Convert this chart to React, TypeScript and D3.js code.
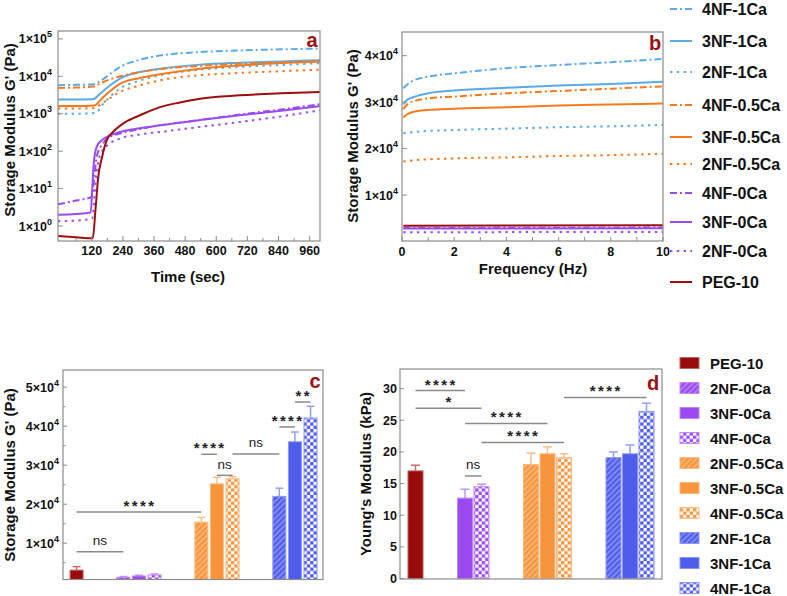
import React from 'react';
import * as d3 from 'd3';

const W = 787, H = 596;
const FONT = '"Liberation Sans", Arial, Helvetica, sans-serif';

// ---------- Panel a: time sweep (t [sec], G' [Pa]) ----------
const timeTicks = [120, 240, 360, 480, 600, 720, 840, 960];
const timeMinorTicks = [60, 180, 300, 420, 540, 660, 780, 900];
const logTicks = [0, 1, 2, 3, 4, 5];

const a_4NF_1Ca: [number, number][] = [[-10, 5800], [60, 5900], [125, 6100], [160, 8000], [190, 11500], [229, 17800], [300, 27000], [383, 36000], [460, 41000], [537, 44500], [691, 49000], [850, 52500], [1000, 55000]];
const a_3NF_1Ca: [number, number][] = [[-10, 2400], [60, 2400], [125, 2450], [150, 3300], [190, 5700], [229, 8700], [306, 13000], [383, 16000], [537, 20500], [691, 23000], [850, 25000], [1000, 27000]];
const a_2NF_1Ca: [number, number][] = [[-10, 1000], [60, 1000], [135, 1050], [160, 1700], [190, 2800], [229, 4700], [306, 7700], [383, 10700], [537, 15000], [691, 17800], [850, 20000], [1000, 22500]];
const a_4NF_05Ca: [number, number][] = [[-10, 4900], [60, 5000], [125, 5300], [160, 6800], [190, 8300], [229, 10000], [306, 13000], [383, 15500], [537, 19000], [691, 21500], [850, 23500], [1000, 25000]];
const a_3NF_05Ca: [number, number][] = [[-10, 1600], [60, 1600], [130, 1650], [160, 2600], [190, 4000], [229, 6300], [306, 9000], [383, 11300], [537, 16000], [691, 19500], [850, 22500], [1000, 25000]];
const a_2NF_05Ca: [number, number][] = [[-10, 1380], [60, 1380], [130, 1420], [160, 1900], [190, 2600], [229, 3800], [306, 5700], [383, 7800], [537, 10700], [691, 12300], [850, 13700], [1000, 15000]];
const a_4NF_0Ca: [number, number][] = [[-10, 3.8], [60, 4.8], [120, 6], [130, 20], [139, 70], [160, 150], [190, 240], [229, 295], [306, 390], [383, 490], [537, 680], [691, 950], [850, 1300], [1000, 1800]];
const a_3NF_0Ca: [number, number][] = [[-10, 2.0], [60, 2.1], [116, 2.3], [122, 10], [128, 48], [139, 130], [160, 200], [178, 240], [229, 325], [306, 410], [383, 490], [537, 675], [691, 910], [850, 1200], [1000, 1600]];
const a_2NF_0Ca: [number, number][] = [[-10, 1.35], [60, 1.4], [122, 1.6], [135, 15], [152, 78], [190, 160], [229, 218], [306, 280], [383, 325], [537, 445], [691, 600], [850, 850], [1000, 1230]];
const a_PEG10: [number, number][] = [[-10, 0.54], [60, 0.5], [124, 0.47], [135, 3], [145, 20], [160, 70], [178, 197], [203, 330], [250, 600], [306, 910], [383, 1500], [460, 2000], [537, 2530], [691, 3100], [850, 3500], [1000, 3800]];

// ---------- Panel b: frequency sweep (f [Hz], G' [Pa]) ----------
const freqTicks = [0, 2, 4, 6, 8, 10];
const freqYTicks = [10000, 20000, 30000, 40000];
const b_4NF_1Ca: [number, number][] = [[0.05, 33000], [0.2, 33800], [0.5, 34800], [1, 35500], [2, 36200], [4, 37300], [6, 38000], [8, 38600], [10, 39300]];
const b_3NF_1Ca: [number, number][] = [[0.05, 29500], [0.2, 30500], [0.5, 31200], [1, 31900], [2, 32500], [4, 33100], [6, 33600], [8, 33900], [10, 34400]];
const b_2NF_1Ca: [number, number][] = [[0.05, 23300], [0.5, 23600], [2, 24000], [4, 24300], [6, 24600], [8, 24800], [10, 25100]];
const b_4NF_05Ca: [number, number][] = [[0.05, 28500], [0.2, 29500], [0.5, 30300], [1, 30800], [2, 31200], [4, 31900], [6, 32400], [8, 32900], [10, 33400]];
const b_3NF_05Ca: [number, number][] = [[0.05, 26700], [0.2, 27400], [0.5, 28000], [1, 28300], [2, 28600], [4, 28900], [6, 29300], [8, 29500], [10, 29700]];
const b_2NF_05Ca: [number, number][] = [[0.05, 17200], [0.5, 17500], [2, 17900], [4, 18100], [6, 18400], [8, 18600], [10, 18900]];
const b_4NF_0Ca: [number, number][] = [[0.05, 2900], [10, 3000]];
const b_3NF_0Ca: [number, number][] = [[0.05, 2800], [10, 2850]];
const b_2NF_0Ca: [number, number][] = [[0.05, 2000], [10, 2050]];
const b_PEG10: [number, number][] = [[0.05, 3400], [10, 3500]];

const lineSeriesNames = ['4NF-1Ca', '3NF-1Ca', '2NF-1Ca', '4NF-0.5Ca', '3NF-0.5Ca', '2NF-0.5Ca', '4NF-0Ca', '3NF-0Ca', '2NF-0Ca', 'PEG-10'];
const timeData = [a_4NF_1Ca, a_3NF_1Ca, a_2NF_1Ca, a_4NF_05Ca, a_3NF_05Ca, a_2NF_05Ca, a_4NF_0Ca, a_3NF_0Ca, a_2NF_0Ca, a_PEG10];
const freqData = [b_4NF_1Ca, b_3NF_1Ca, b_2NF_1Ca, b_4NF_05Ca, b_3NF_05Ca, b_2NF_05Ca, b_4NF_0Ca, b_3NF_0Ca, b_2NF_0Ca, b_PEG10];

// ---------- Panels c, d: bars ----------
const barNames = ['PEG-10', '2NF-0Ca', '3NF-0Ca', '4NF-0Ca', '2NF-0.5Ca', '3NF-0.5Ca', '4NF-0.5Ca', '2NF-1Ca', '3NF-1Ca', '4NF-1Ca'];
const storageMean = [3100, 1270, 1600, 1860, 15400, 25200, 26500, 22000, 36000, 42100];
const storageErr = [900, 200, 200, 250, 1200, 1700, 600, 2100, 2500, 3000];
const storageTicks = [10000, 20000, 30000, 40000, 50000];
const youngMean: (number | null)[] = [17.0, null, 12.7, 14.5, 18.0, 19.7, 19.1, 19.1, 19.7, 26.4];
const youngErr: (number | null)[] = [0.9, null, 1.4, 0.4, 1.8, 1.1, 0.6, 0.9, 1.4, 1.3];
const youngTicks = [0, 5, 10, 15, 20, 25, 30];

// significance brackets: bar index a -> bar index b, at height y
const sigStorage = [
  { a: 0, b: 1, y: 7800, label: 'ns' },
  { a: 0, b: 4, y: 18000, label: '****' },
  { a: 4, b: 5, y: 32800, label: '****' },
  { a: 5, b: 6, y: 27400, label: 'ns' },
  { a: 6, b: 7, y: 32900, label: 'ns' },
  { a: 7, b: 8, y: 39800, label: '****' },
  { a: 8, b: 9, y: 46200, label: '**' },
];
const sigYoung = [
  { a: 0, b: 2, y: 29.7, label: '****' },
  { a: 0, b: 3, y: 26.9, label: '*' },
  { a: 2, b: 5, y: 24.5, label: '****' },
  { a: 3, b: 6, y: 21.5, label: '****' },
  { a: 2, b: 3, y: 16.2, label: 'ns' },
  { a: 6, b: 9, y: 28.6, label: '****' },
];

// ---------- styles ----------
const LBLUE = '#5aaae8', LORANGE = '#f57a1e', LPURPLE = '#9a4cf3', LRED = '#9c0e0e';
const BBLUE = '#4f5ded', BORANGE = '#f8953c', BPURPLE = '#9b4af2', BRED = '#990c0c';
const FRAME = '#8c8c8c';
const LABELRED = '#9b1111';

function lineColor(n: string) {
  if (n.startsWith('PEG')) return LRED;
  if (n.endsWith('-1Ca')) return LBLUE;
  if (n.endsWith('0.5Ca')) return LORANGE;
  return LPURPLE;
}
function lineDash(n: string) {
  if (n.startsWith('4NF')) return '7,3,2,3';
  if (n.startsWith('2NF')) return '2.4,4.4';
  return undefined;
}
function barColor(n: string) {
  if (n.startsWith('PEG')) return BRED;
  if (n.endsWith('-1Ca')) return BBLUE;
  if (n.endsWith('0.5Ca')) return BORANGE;
  return BPURPLE;
}
function barKey(n: string) {
  if (n.startsWith('PEG')) return 'red';
  if (n.endsWith('-1Ca')) return 'blue';
  if (n.endsWith('0.5Ca')) return 'orange';
  return 'purple';
}
function barFill(n: string) {
  const k = barKey(n);
  if (n.startsWith('2NF')) return `url(#hatch-${k})`;
  if (n.startsWith('4NF')) return `url(#check-${k})`;
  return barColor(n);
}
function lighten(c: string, t: number) {
  return d3.interpolateRgb(c, '#ffffff')(t);
}
function groupOf(i: number) {
  return i === 0 ? 0 : Math.floor((i - 1) / 3) + 1;
}
function slotOf(i: number, offset: number) {
  if (i === 0) return 0;
  const g = groupOf(i);
  return 5 * g - offset + ((i - 1) % 3);
}

const Pow = ({ m, e }: { m: string; e: number }) => (
  <>
    <tspan>{m}×10</tspan>
    <tspan dy={-6} fontSize={9}>{e}</tspan>
  </>
);

export default function App() {
  // ---- scales
  const xA = d3.scaleLinear().domain([-10, 1000]).range([58, 320]);
  const yA = d3.scaleLog().domain([10 ** -0.4, 10 ** 5.21]).range([241, 31]);
  const xB = d3.scaleLinear().domain([0, 10]).range([402, 663]);
  const yB = d3.scaleLinear().domain([0, 45100]).range([241.5, 32]);
  const xC = d3.scaleLinear().domain([-0.87, 15.8]).range([63, 323]);
  const yC = d3.scaleLinear().domain([700, 54400]).range([579.5, 370]);
  const xD = d3.scaleLinear().domain([-0.94, 14.94]).range([400, 662]);
  const yD = d3.scaleLinear().domain([0, 33.1]).range([578.5, 369]);

  const lineA = d3.line<[number, number]>().x(d => xA(d[0])).y(d => yA(d[1])).curve(d3.curveMonotoneX);
  const lineB = d3.line<[number, number]>().x(d => xB(d[0])).y(d => yB(d[1])).curve(d3.curveMonotoneX);

  const keys = ['red', 'purple', 'orange', 'blue'];
  const keyColor: Record<string, string> = { red: BRED, purple: BPURPLE, orange: BORANGE, blue: BBLUE };

  const legendTopY = [9, 41, 72, 105, 137, 164, 193, 222, 251, 282];

  const tickFont = { fontFamily: FONT, fontWeight: 700, fontSize: 12.5, fill: '#111' } as const;
  const titleFont = { fontFamily: FONT, fontWeight: 700, fontSize: 15, fill: '#111' } as const;

  const renderBars = (
    means: (number | null)[], errs: (number | null)[], x: d3.ScaleLinear<number, number>,
    y: d3.ScaleLinear<number, number>, offset: number, bw: number, base: number
  ) =>
    barNames.map((n, i) => {
      const v = means[i];
      if (v == null) return null;
      const cx = x(slotOf(i, offset));
      const top = y(v);
      const e = errs[i] ?? 0;
      const eTop = y(v + e);
      const ec = lighten(barColor(n), 0.4);
      return (
        <g key={n}>
          <line x1={cx} x2={cx} y1={top} y2={eTop} stroke={ec} strokeWidth={1.5} />
          <line x1={cx - bw * 0.3} x2={cx + bw * 0.3} y1={eTop} y2={eTop} stroke={ec} strokeWidth={1.5} />
          <rect x={cx - bw / 2} y={top} width={bw} height={y(base) - top} fill={barFill(n)}
            stroke={lighten(barColor(n), 0.35)} strokeWidth={1} />
        </g>
      );
    });

  const renderSig = (
    sig: { a: number; b: number; y: number; label: string }[], x: d3.ScaleLinear<number, number>,
    y: d3.ScaleLinear<number, number>, offset: number
  ) =>
    sig.map((s, i) => {
      const x1 = x(slotOf(s.a, offset));
      const x2 = x(slotOf(s.b, offset));
      const yy = y(s.y);
      const isStar = s.label.includes('*');
      return (
        <g key={i}>
          <line x1={x1} x2={x2} y1={yy} y2={yy} stroke="#8a8a8a" strokeWidth={1.5} />
          <text x={(x1 + x2) / 2 + (isStar ? 1 : 0)} y={isStar ? yy - 1 : yy - 6.5}
            textAnchor="middle" fontFamily={FONT}
            fontWeight={isStar ? 700 : 400} fontSize={isStar ? 15 : 13.5}
            letterSpacing={isStar ? 2.4 : 0} fill="#222">{s.label}</text>
        </g>
      );
    });

  return (
    <svg width={W} height={H} viewBox={`0 0 ${W} ${H}`}
      style={{ position: 'absolute', left: 0, top: 0, background: '#fff' }}>
      <defs>
        <clipPath id="clipA"><rect x={58} y={31} width={262} height={210} /></clipPath>
        <clipPath id="clipB"><rect x={402} y={32} width={261} height={209} /></clipPath>
        {keys.map(k => (
          <React.Fragment key={k}>
            <pattern id={`hatch-${k}`} width={4} height={4} patternUnits="userSpaceOnUse" patternTransform="rotate(45)">
              <rect width={4} height={4} fill={keyColor[k]} />
              <line x1={1} y1={0} x2={1} y2={4} stroke="#fff" strokeOpacity={0.45} strokeWidth={1.2} />
            </pattern>
            <pattern id={`check-${k}`} width={6.6} height={6.6} patternUnits="userSpaceOnUse">
              <rect width={6.6} height={6.6} fill="#fff" />
              <rect width={3.3} height={3.3} fill={keyColor[k]} />
              <rect x={3.3} y={3.3} width={3.3} height={3.3} fill={keyColor[k]} />
            </pattern>
          </React.Fragment>
        ))}
      </defs>

      {/* ================= Panel a ================= */}
      <g clipPath="url(#clipA)">
        {timeData.map((d, i) => (
          <path key={i} d={lineA(d) || ''} fill="none" stroke={lineColor(lineSeriesNames[i])}
            strokeWidth={2} strokeDasharray={lineDash(lineSeriesNames[i])} />
        ))}
      </g>
      <rect x={58} y={31} width={262} height={210} fill="none" stroke={FRAME} strokeWidth={1.2} />
      {timeTicks.map(t => (
        <g key={t}>
          <line x1={xA(t)} x2={xA(t)} y1={241} y2={236} stroke={FRAME} strokeWidth={1} />
          <text x={xA(t)} y={255} textAnchor="middle" {...tickFont}>{t}</text>
        </g>
      ))}
      {timeMinorTicks.map(t => (
        <line key={t} x1={xA(t)} x2={xA(t)} y1={241} y2={238} stroke={FRAME} strokeWidth={1} />
      ))}
      {logTicks.map(e => (
        <g key={e}>
          <line x1={58} x2={63} y1={yA(10 ** e)} y2={yA(10 ** e)} stroke={FRAME} strokeWidth={1} />
          <text x={52} y={yA(10 ** e) + 4.5} textAnchor="end" {...tickFont}><Pow m="1" e={e} /></text>
        </g>
      ))}
      <text x={188} y={282} textAnchor="middle" {...titleFont}>Time (sec)</text>
      <text transform={`translate(15,130) rotate(-90)`} textAnchor="middle" {...titleFont}>Storage Modulus G' (Pa)</text>
      <text x={312} y={47} textAnchor="middle" fontFamily={FONT} fontWeight={700} fontSize={20} fill={LABELRED}>a</text>

      {/* ================= Panel b ================= */}
      <g clipPath="url(#clipB)">
        {freqData.map((d, i) => (
          <path key={i} d={lineB(d) || ''} fill="none" stroke={lineColor(lineSeriesNames[i])}
            strokeWidth={2} strokeDasharray={lineDash(lineSeriesNames[i])} />
        ))}
      </g>
      <rect x={402} y={32} width={261} height={209} fill="none" stroke={FRAME} strokeWidth={1.2} />
      {d3.range(0, 11).map(f => (
        <line key={f} x1={xB(f)} x2={xB(f)} y1={241} y2={237} stroke={FRAME} strokeWidth={1} />
      ))}
      {freqTicks.map(f => (
        <text key={f} x={xB(f)} y={256} textAnchor="middle" {...tickFont}>{f}</text>
      ))}
      {freqYTicks.map(v => (
        <g key={v}>
          <line x1={402} x2={407} y1={yB(v)} y2={yB(v)} stroke={FRAME} strokeWidth={1} />
          <text x={398} y={yB(v) + 4.5} textAnchor="end" {...tickFont}><Pow m={String(v / 10000)} e={4} /></text>
        </g>
      ))}
      <text x={533} y={274} textAnchor="middle" {...titleFont}>Frequency (Hz)</text>
      <text transform={`translate(358,136) rotate(-90)`} textAnchor="middle" {...titleFont}>Storage Modulus G' (Pa)</text>
      <text x={655} y={50} textAnchor="middle" fontFamily={FONT} fontWeight={700} fontSize={20} fill={LABELRED}>b</text>

      {/* top legend */}
      {lineSeriesNames.map((n, i) => (
        <g key={n}>
          <line x1={670} x2={692} y1={legendTopY[i]} y2={legendTopY[i]} stroke={lineColor(n)}
            strokeWidth={2} strokeDasharray={lineDash(n)} />
          <text x={702} y={legendTopY[i] + 5.5} fontFamily={FONT} fontWeight={700} fontSize={16} fill="#111">{n}</text>
        </g>
      ))}

      {/* ================= Panel c ================= */}
      {renderBars(storageMean, storageErr, xC, yC, 2, 13, 700)}
      {renderSig(sigStorage, xC, yC, 2)}
      <rect x={63} y={370} width={260} height={209.5} fill="none" stroke={FRAME} strokeWidth={1.2} />
      {storageTicks.map(v => (
        <g key={v}>
          <line x1={63} x2={67} y1={yC(v)} y2={yC(v)} stroke={FRAME} strokeWidth={1} />
          <line x1={63} x2={65.5} y1={yC(v - 5000)} y2={yC(v - 5000)} stroke={FRAME} strokeWidth={1} />
          <text x={59} y={yC(v) + 4.5} textAnchor="end" {...tickFont}><Pow m={String(v / 10000)} e={4} /></text>
        </g>
      ))}
      <text transform={`translate(15,475) rotate(-90)`} textAnchor="middle" {...titleFont}>Storage Modulus G' (Pa)</text>
      <text x={315} y={388} textAnchor="middle" fontFamily={FONT} fontWeight={700} fontSize={20} fill={LABELRED}>c</text>

      {/* ================= Panel d ================= */}
      {renderBars(youngMean, youngErr, xD, yD, 3, 15, 0)}
      {renderSig(sigYoung, xD, yD, 3)}
      <rect x={400} y={369} width={262} height={210} fill="none" stroke={FRAME} strokeWidth={1.2} />
      {youngTicks.map(v => (
        <g key={v}>
          <line x1={400} x2={404} y1={yD(v)} y2={yD(v)} stroke={FRAME} strokeWidth={1} />
          <text x={397} y={yD(v) + 4.5} textAnchor="end" {...tickFont}>{v}</text>
        </g>
      ))}
      <text transform={`translate(371,474) rotate(-90)`} textAnchor="middle" {...titleFont}>Young's Modulus (kPa)</text>
      <text x={653} y={390} textAnchor="middle" fontFamily={FONT} fontWeight={700} fontSize={20} fill={LABELRED}>d</text>

      {/* bottom legend */}
      {barNames.map((n, i) => (
        <g key={n}>
          <rect x={680} y={363 + 25 * i - 5.5} width={19} height={11} fill={barFill(n)}
            stroke={lighten(barColor(n), 0.35)} strokeWidth={1} />
          <text x={710} y={363 + 25 * i + 5.5} fontFamily={FONT} fontWeight={700} fontSize={15} fill="#111">{n}</text>
        </g>
      ))}
    </svg>
  );
}
